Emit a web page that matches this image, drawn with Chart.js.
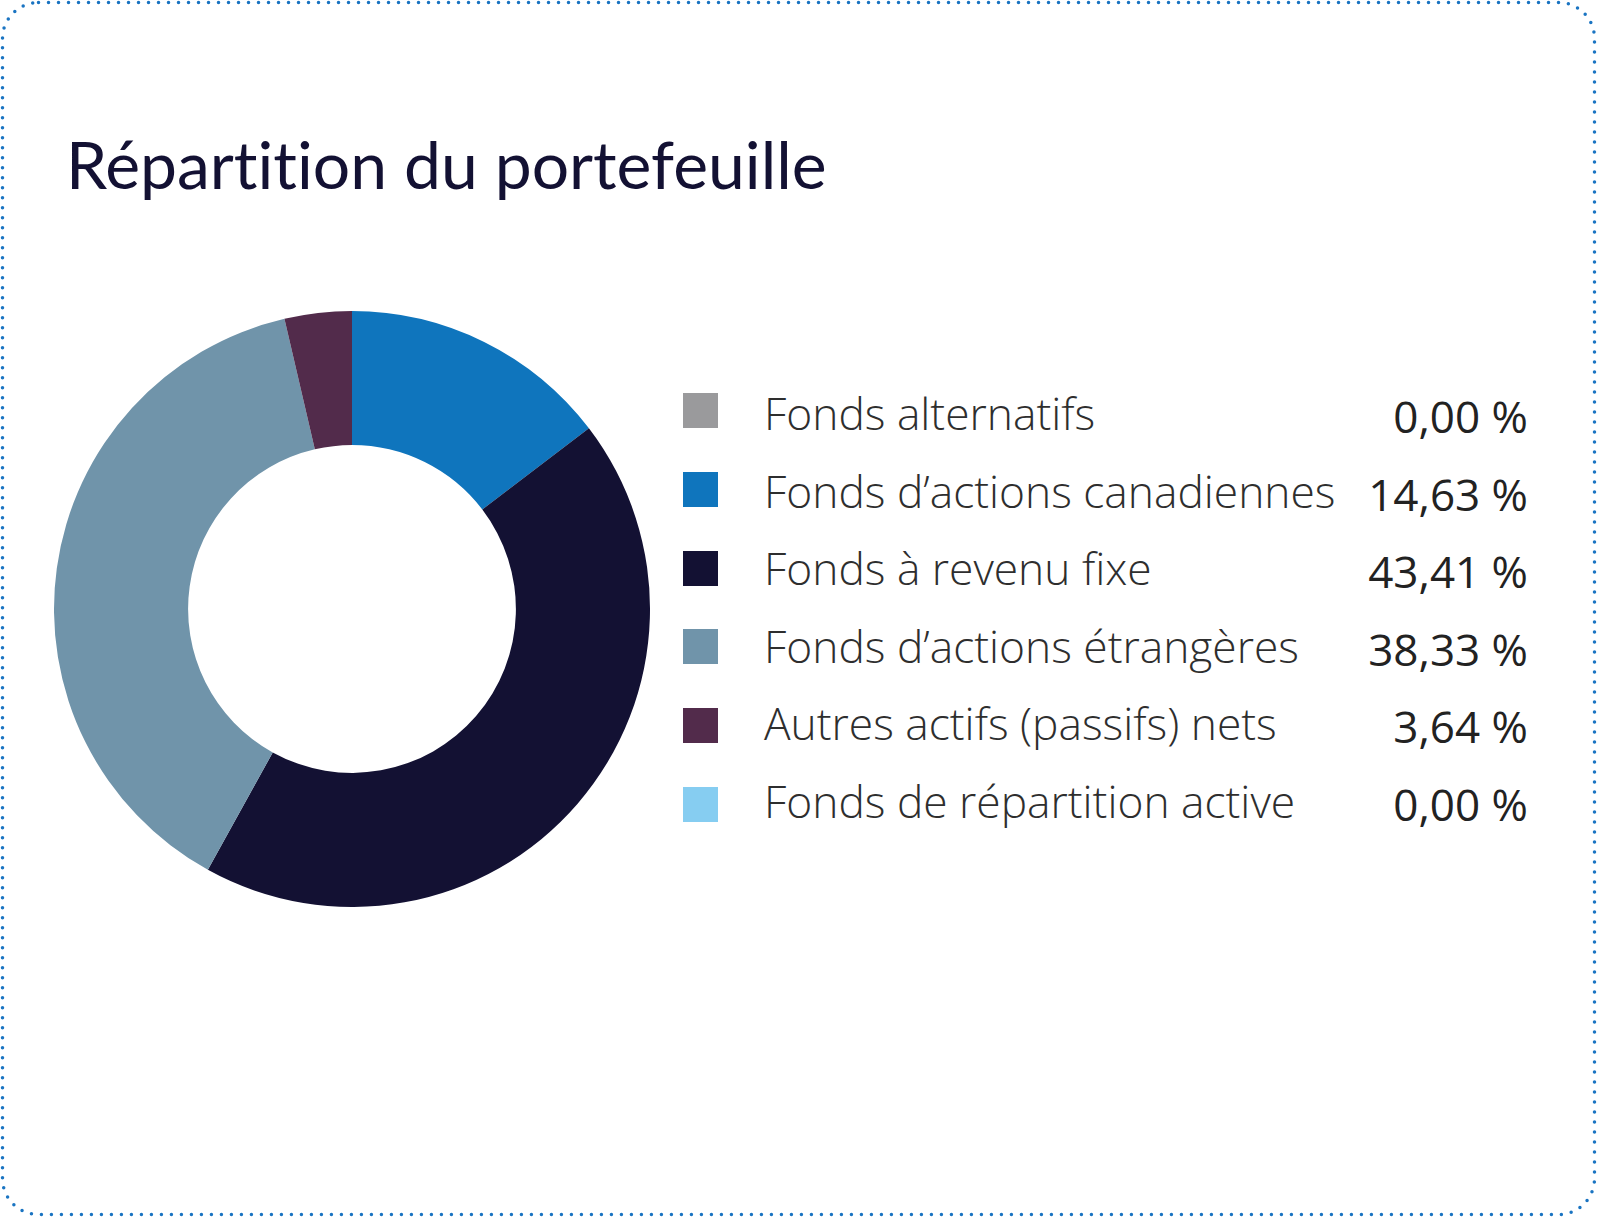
<!DOCTYPE html>
<html lang="fr">
<head>
<meta charset="utf-8">
<title>Répartition du portefeuille</title>
<script src="https://cdn.jsdelivr.net/npm/chart.js@4.4.1/dist/chart.umd.min.js"></script>
<style>
    html, body { margin: 0; padding: 0; background: #fff; }
    #card { position: relative; width: 1597px; height: 1217px; overflow: hidden; }
    #frame { position: absolute; left: 0; top: 0; }
    #title {
        position: absolute; left: 66px; top: 124px; margin: 0;
        font-family: Lato, "Noto Sans", sans-serif; font-weight: 400;
        font-variant-ligatures: none; font-feature-settings: "liga" 0;
        font-size: 66px; line-height: 80px; color: #131133; white-space: nowrap;
    }
    #donutBox { position: absolute; left: 54px; top: 311px; width: 596px; height: 596px; }
    #legend { position: absolute; left: 683px; top: 0; width: 845px; height: 1217px; }
    .swatch { position: absolute; left: 0; width: 35px; height: 35px; }
    .label, .value {
        position: absolute; font-family: "Open Sans", sans-serif;
        line-height: 60px; white-space: nowrap;
    }
    .label { left: 81px; font-size: 44.3px; font-weight: 300; color: #2e2e2e; }
    .value { right: 0; font-size: 44px; font-weight: 400; color: #222222; }
</style>
</head>
<body>
<div id="card">
    <svg id="frame" width="1597" height="1217">
        <rect x="2.5" y="2.5" width="1592" height="1212" rx="36" ry="36"
              fill="none" stroke="#1a74c2" stroke-width="3.5"
              stroke-dasharray="0 10" stroke-linecap="round"/>
    </svg>
    <h1 id="title">Répartition du portefeuille</h1>
    <div id="donutBox"><canvas id="donut"></canvas></div>
    <div id="legend"></div>
</div>

<script>
// categories + values (%)
const categories = [
    "Fonds alternatifs",
    "Fonds d’actions canadiennes",
    "Fonds à revenu fixe",
    "Fonds d’actions étrangères",
    "Autres actifs (passifs) nets",
    "Fonds de répartition active"
];
const weights = [0.00, 14.63, 43.41, 38.33, 3.64, 0.00];
const colours = ["#9a9a9c", "#0f75bd", "#131133", "#7094aa", "#522b4b", "#86cdf1"];

// legend rows (html so the values can sit in their own right-aligned column)
const swatchTop = 393, swatchStep = 78.8;
const textTop = 383, textStep = 77.6;

function fmtPct(v) {
    return v.toFixed(2).replace(".", ",") + " %";
}

const legend = document.getElementById("legend");
categories.forEach((cat, i) => {
    const sw = document.createElement("div");
    sw.className = "swatch";
    sw.style.top = (swatchTop + i * swatchStep) + "px";
    sw.style.background = colours[i];
    legend.appendChild(sw);

    const y = textTop + i * textStep;
    const lab = document.createElement("span");
    lab.className = "label";
    lab.style.top = y + "px";
    lab.textContent = cat;
    legend.appendChild(lab);

    const val = document.createElement("span");
    val.className = "value";
    val.style.top = (y + 3) + "px";
    val.textContent = fmtPct(weights[i]);
    legend.appendChild(val);
});

new Chart(document.getElementById("donut"), {
    type: "doughnut",
    data: {
        labels: categories,
        datasets: [{
            data: weights,
            backgroundColor: colours,
            borderWidth: 0,
            hoverOffset: 0
        }]
    },
    options: {
        responsive: true,
        maintainAspectRatio: false,
        animation: false,
        cutout: "55%",
        layout: { padding: 0 },
        plugins: {
            legend: { display: false },
            tooltip: { enabled: false }
        }
    }
});
</script>
</body>
</html>
